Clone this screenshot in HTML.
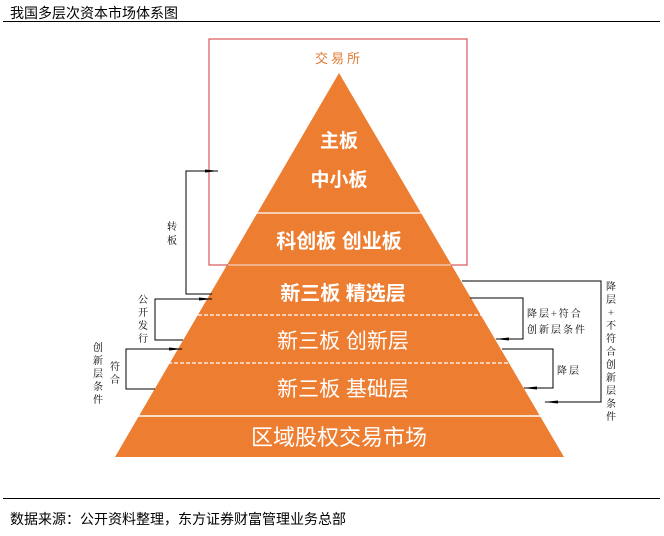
<!DOCTYPE html>
<html><head><meta charset="utf-8"><style>
body{margin:0;background:#fff;width:664px;height:531px;overflow:hidden;font-family:"Liberation Sans","Noto Sans CJK SC",sans-serif}
</style></head><body>
<svg width="664" height="531" viewBox="0 0 664 531" xmlns="http://www.w3.org/2000/svg" font-family="Liberation Sans, Noto Sans CJK SC, sans-serif">
<defs><marker id="a" markerWidth="14" markerHeight="6" refX="13" refY="3" orient="auto" markerUnits="userSpaceOnUse"><path d="M0,1.5 L14,3 L0,4.5 Z" fill="#000"/></marker></defs>
<text x="10" y="18" font-size="14" fill="#000">我国多层次资本市场体系图</text>
<line x1="3" y1="21.5" x2="660" y2="21.5" stroke="#000" stroke-width="1"/>
<text x="339" y="63" font-size="13" fill="#e07a35" text-anchor="middle" letter-spacing="3">交易所</text>
<polygon points="339,73 564,457 115,457" fill="#ed7d31"/>
<line x1="240" y1="213" x2="440" y2="213" stroke="#fff" stroke-width="1.2"/>
<line x1="150" y1="315" x2="530" y2="315" stroke="#fff" stroke-width="1.2" stroke-dasharray="4,2"/>
<line x1="150" y1="363" x2="530" y2="363" stroke="#fff" stroke-width="1.2" stroke-dasharray="4,2"/>
<line x1="100" y1="416" x2="580" y2="416" stroke="#fff" stroke-width="1.5"/>
<rect x="209" y="39" width="258" height="226" fill="none" stroke="#d0343a" stroke-width="1"/>
<line x1="228" y1="265" x2="451" y2="265" stroke="#f5d0c0" stroke-width="1.2"/>
<g fill="#fff" text-anchor="middle" font-weight="bold">
<text x="339" y="147" font-size="19">主板</text>
<text x="339" y="186" font-size="19">中小板</text>
<text x="339" y="248" font-size="20">科创板  创业板</text>
<text x="343" y="300" font-size="20">新三板 精选层</text>
</g>
<g fill="#fff" text-anchor="middle">
<text x="343" y="348" font-size="21">新三板 创新层</text>
<text x="343" y="396" font-size="21">新三板 基础层</text>
<text x="339" y="445" font-size="22">区域股权交易市场</text>
</g>
<g stroke="#000" stroke-width="1" fill="none">
<polyline points="212,294 186,294 186,171 218,171" marker-end="url(#a)"/>
<polyline points="183,340 155,340 155,299 212,299" marker-end="url(#a)"/>
<polyline points="155,389 126,389 126,349 182,349" marker-end="url(#a)"/>
<polyline points="470,298 523,298 523,339 496,339" marker-end="url(#a)"/>
<polyline points="502,349 553,349 553,388 524,388" marker-end="url(#a)"/>
<polyline points="462,281 601,281 601,402 545,402" marker-end="url(#a)"/>
</g>
<g font-size="10" fill="#000" text-anchor="middle" font-family="Noto Serif CJK SC, serif">
<text x="172" y="230">转</text><text x="172" y="244">板</text>
<text x="143" y="303">公</text><text x="143" y="316">开</text><text x="143" y="329">发</text><text x="143" y="342">行</text>
<text x="98" y="351">创</text><text x="98" y="364">新</text><text x="98" y="377">层</text><text x="98" y="390">条</text><text x="98" y="403">件</text>
<text x="115" y="370">符</text><text x="115" y="383">合</text>
<text x="611" y="290">降</text><text x="611" y="303">层</text><text x="611" y="316">+</text><text x="611" y="329">不</text><text x="611" y="342">符</text><text x="611" y="355">合</text><text x="611" y="368">创</text><text x="611" y="381">新</text><text x="611" y="394">层</text><text x="611" y="407">条</text><text x="611" y="420">件</text>
</g>
<g font-size="10" fill="#000" font-family="Noto Serif CJK SC, serif" letter-spacing="2">
<text x="527" y="317">降层+符合</text>
<text x="527" y="333">创新层条件</text>
<text x="557" y="374">降层</text>
</g>
<line x1="3" y1="498.5" x2="660" y2="498.5" stroke="#000" stroke-width="1"/>
<text x="10" y="524" font-size="14" fill="#000">数据来源：公开资料整理，东方证券财富管理业务总部</text>
</svg>
</body></html>
